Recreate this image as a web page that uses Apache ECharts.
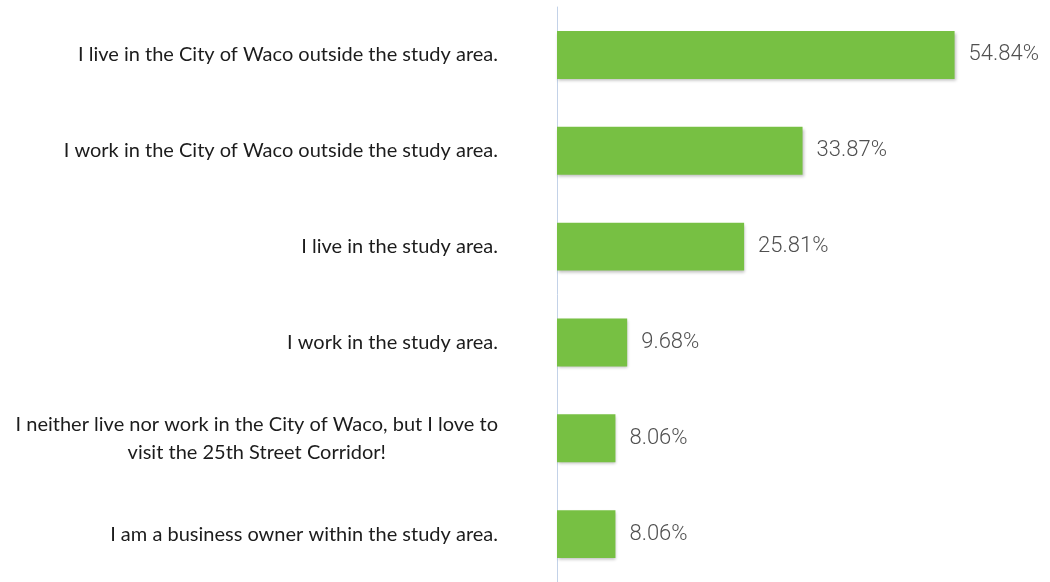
<!DOCTYPE html>
<html>
<head>
<meta charset="utf-8">
<script src="https://cdn.jsdelivr.net/npm/echarts@6/dist/echarts.min.js"></script>
<style>
  html, body { margin: 0; padding: 0; background: #ffffff; }
  #chart { width: 1050px; height: 582px; }
</style>
</head>
<body>
<div id="chart"></div>
<script>
// Survey responses, top to bottom
const categories = [
  'I live in the City of Waco outside the study area.',
  'I work in the City of Waco outside the study area.',
  'I live in the study area.',
  'I work in the study area.',
  'I neither live nor work in the City of Waco, but I love to\nvisit the 25th Street Corridor!',
  'I am a business owner within the study area.'
];
const percentages = [54.84, 33.87, 25.81, 9.68, 8.06, 8.06];

const chart = echarts.init(document.getElementById('chart'));
chart.setOption({
  animation: false,
  grid: { left: 557, right: 58, top: 7, bottom: -2, containLabel: false },
  xAxis: {
    type: 'value',
    min: 0,
    max: 60,
    show: false
  },
  yAxis: {
    type: 'category',
    inverse: true,
    data: categories,
    axisLine: { show: true, lineStyle: { color: '#c3d2e8', width: 1 } },
    axisTick: { show: false },
    axisLabel: {
      margin: 59,
      formatter: function (v) {
        return v.split('\n').map(function (l) { return '{c|' + l + '}'; }).join('\n');
      },
      rich: {
        c: {
          align: 'center',
          fontFamily: 'Lato, "Open Sans", sans-serif',
          fontSize: 20,
          color: '#1c1c1c',
          lineHeight: 28
        }
      }
    }
  },
  series: [{
    type: 'bar',
    data: percentages,
    barCategoryGap: '50%',
    itemStyle: {
      color: '#77c043',
      shadowColor: 'rgba(0,0,0,0.25)',
      shadowBlur: 3,
      shadowOffsetX: 1,
      shadowOffsetY: 2
    },
    label: {
      show: true,
      position: 'right',
      distance: 14,
      formatter: function (p) { return p.value.toFixed(2) + '%'; },
      fontFamily: 'Roboto, "Noto Sans", sans-serif',
      fontWeight: 300,
      fontSize: 22,
      color: '#505050'
    }
  }]
});
</script>
</body>
</html>
